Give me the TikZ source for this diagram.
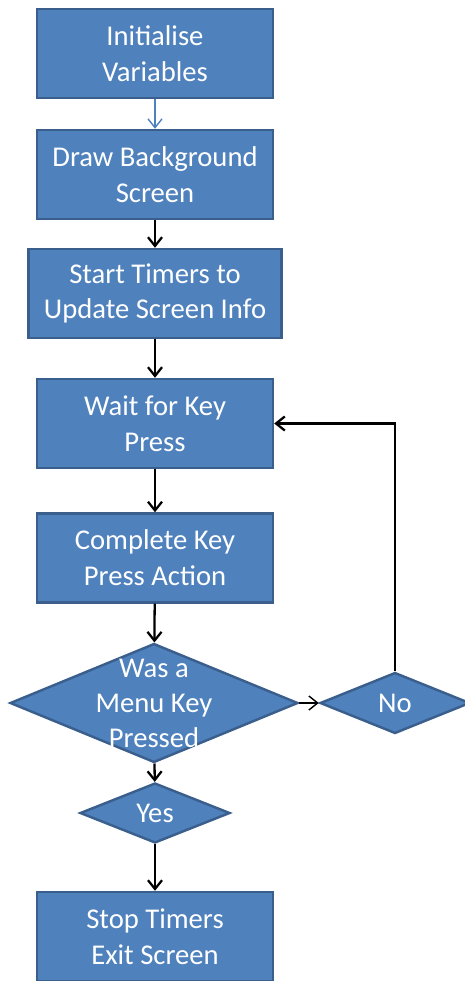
\documentclass[tikz,border=0pt]{standalone}
\usepackage{fontspec}
\setmainfont{Carlito}
\usepackage{xcolor}
\usetikzlibrary{arrows.meta, shapes.geometric}
\definecolor{boxfill}{HTML}{4F81BD}
\definecolor{boxline}{HTML}{3A5F8D}

\begin{document}
\begin{tikzpicture}[x=0.02cm, y=-0.02cm,
        procbox/.style={rectangle, draw=boxline, fill=boxfill, line width=1.4pt,
            minimum width=4.72cm, minimum height=1.78cm, text=white, align=center,
            font=\fontsize{16.3}{20.4}\selectfont},
        decision/.style={diamond, draw=boxline, fill=boxfill, line width=1.4pt,
            inner sep=0pt, shape aspect=2.5, text=white, align=center,
            font=\fontsize{16.3}{20.4}\selectfont},
        flow/.style={-{Straight Barb[length=5pt, width=8pt]}, line width=1.3pt},
        thinflow/.style={-{Straight Barb[length=5pt, width=8pt]}, line width=0.8pt}]
    \useasboundingbox (0, 0) rectangle (464, 981);

    \node[procbox] at (155, 53.5)  (init)  {Initialise\\Variables};
    \node[procbox] at (155, 174.5) (bg)    {Draw Background\\Screen};
    \node[procbox, minimum width=5.06cm] at (155, 293.5) (timers) {Start Timers to\\Update Screen Info};
    \node[procbox] at (155, 423.5) (wait)  {Wait for Key\\Press};
    \node[procbox] at (155, 558)   (action) {Complete Key\\Press Action};
    \node[decision, minimum width=5.76cm, minimum height=2.38cm,
        label={[text=white, align=center, font=\fontsize{16.3}{19.9}\selectfont]center:Was a\\Menu Key\\Pressed}]
        at (154, 703) (menu) {};
    \node[decision, minimum width=3cm, minimum height=1.22cm] at (395, 703) (no)  {No};
    \node[decision, minimum width=3cm, minimum height=1.2cm]  at (155, 813) (yes) {Yes};
    \node[procbox] at (155, 936.5) (stop)  {Stop Timers\\Exit Screen};

    \draw [thinflow, boxfill] (init) -- (bg);
    \draw [flow] (bg) -- (timers);
    \draw [flow] (timers) -- (wait);
    \draw [flow] (wait) -- (action);
    \draw [flow] (action) -- (menu);
    \draw [thinflow] (menu) -- (no);
    \draw [flow] (no.north) |- (wait.east);
    \draw [flow] (menu) -- (yes);
    \draw [flow] (yes) -- (stop);
\end{tikzpicture}
\end{document}
